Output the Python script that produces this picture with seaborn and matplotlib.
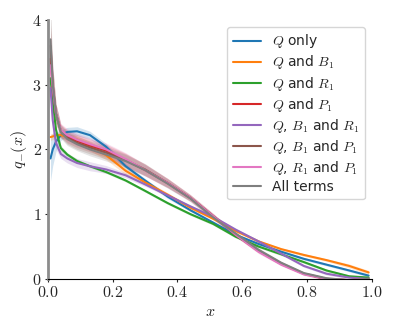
import numpy as np
import pandas as pd
import matplotlib
matplotlib.use("Agg")
import matplotlib.pyplot as plt
from matplotlib.ticker import FuncFormatter
import seaborn as sns

sns.set_style("ticks")
plt.rcParams["font.family"] = ["DejaVu Sans"]
plt.rcParams["mathtext.fontset"] = "cm"
plt.rcParams["font.size"] = 10

X = [0.008, 0.015, 0.025, 0.04, 0.06, 0.09, 0.13, 0.18, 0.24, 0.30,
     0.37, 0.44, 0.51, 0.58, 0.65, 0.72, 0.79, 0.86, 0.93, 0.99]

LABELS = [
    r"$Q$ only", r"$Q$ and $B_1$", r"$Q$ and $R_1$", r"$Q$ and $P_1$",
    r"$Q$, $B_1$ and $R_1$", r"$Q$, $B_1$ and $P_1$", r"$Q$, $R_1$ and $P_1$",
    "All terms",
]

q_only = [1.86, 2.00, 2.12, 2.22, 2.27, 2.28, 2.22, 2.04, 1.74, 1.52,
          1.27, 1.06, 0.87, 0.68, 0.54, 0.42, 0.31, 0.22, 0.13, 0.05]
q_b1 = [2.19, 2.20, 2.22, 2.22, 2.19, 2.15, 2.05, 1.91, 1.67, 1.49,
        1.30, 1.10, 0.93, 0.74, 0.58, 0.46, 0.37, 0.29, 0.20, 0.10]
q_r1 = [3.10, 2.75, 2.30, 2.02, 1.92, 1.82, 1.74, 1.65, 1.52, 1.36,
        1.17, 1.00, 0.85, 0.65, 0.50, 0.38, 0.26, 0.13, 0.04, 0.02]
q_p1 = [3.40, 2.95, 2.55, 2.29, 2.20, 2.13, 2.06, 1.98, 1.84, 1.68,
        1.48, 1.25, 0.97, 0.68, 0.43, 0.23, 0.08, 0.00, -0.02, 0.00]
q_b1_r1 = [2.95, 2.45, 2.10, 1.93, 1.86, 1.79, 1.74, 1.69, 1.60, 1.46,
           1.29, 1.12, 0.96, 0.76, 0.58, 0.39, 0.20, 0.08, 0.02, 0.00]
q_b1_p1 = [3.60, 3.00, 2.55, 2.28, 2.18, 2.10, 2.03, 1.95, 1.83, 1.69,
           1.48, 1.25, 0.97, 0.68, 0.44, 0.24, 0.08, 0.00, -0.02, 0.00]
q_r1_p1 = [3.30, 2.95, 2.55, 2.30, 2.22, 2.15, 2.08, 2.00, 1.85, 1.68,
           1.48, 1.25, 0.97, 0.68, 0.42, 0.22, 0.07, 0.00, -0.02, 0.00]
all_terms = [3.70, 3.00, 2.55, 2.27, 2.16, 2.08, 2.00, 1.92, 1.82, 1.68,
             1.47, 1.24, 0.95, 0.70, 0.45, 0.25, 0.09, 0.01, -0.02, 0.00]

# half-width of the shaded band around each curve
band_q = [0.35, 0.25, 0.15, 0.08, 0.07, 0.07, 0.06, 0.05, 0.04, 0.03,
          0.03, 0.02, 0.02, 0.02, 0.02, 0.02, 0.02, 0.02, 0.02, 0.02]
band_b1 = [0.05, 0.05, 0.04, 0.04, 0.05, 0.06, 0.07, 0.07, 0.06, 0.04,
           0.03, 0.03, 0.02, 0.02, 0.02, 0.02, 0.02, 0.02, 0.03, 0.03]
band_r1 = [0.25, 0.15, 0.08, 0.04, 0.03, 0.03, 0.02, 0.02, 0.02, 0.02,
           0.02, 0.02, 0.02, 0.02, 0.02, 0.02, 0.02, 0.02, 0.02, 0.02]
band_b1_r1 = [0.30, 0.20, 0.10, 0.07, 0.07, 0.07, 0.07, 0.06, 0.04, 0.03,
              0.02, 0.02, 0.02, 0.02, 0.02, 0.02, 0.02, 0.02, 0.02, 0.02]
band_full = [0.50, 0.30, 0.15, 0.10, 0.10, 0.10, 0.10, 0.10, 0.10, 0.09,
             0.07, 0.05, 0.04, 0.03, 0.03, 0.02, 0.02, 0.02, 0.02, 0.02]

series = [
    (q_only, band_q), (q_b1, band_b1), (q_r1, band_r1), (q_p1, band_full),
    (q_b1_r1, band_b1_r1), (q_b1_p1, band_full), (q_r1_p1, band_full),
    (all_terms, band_full),
]

rows = []
for label, (mean, half) in zip(LABELS, series):
    for x, m, h in zip(X, mean, half):
        for v in (m - h, m, m + h):
            rows.append({"x": x, "q": v, "fit": label})
df = pd.DataFrame(rows)

fig = plt.figure(figsize=(3.99, 3.32), dpi=100)
ax = fig.add_axes([0.12, 0.16, 0.812, 0.78])
sns.lineplot(
    data=df, x="x", y="q", hue="fit", hue_order=LABELS,
    palette="tab10", estimator="mean", errorbar=("pi", 100),
    err_kws={"alpha": 0.2, "linewidth": 0}, linewidth=1.5, ax=ax,
)
ax.set_xlim(0, 1)
ax.set_ylim(0, 4)
ax.set_xticks([0, 0.2, 0.4, 0.6, 0.8, 1.0])
ax.set_yticks([0, 1, 2, 3, 4])
ax.xaxis.set_major_formatter(FuncFormatter(lambda v, p: f"${v:.1f}$"))
ax.yaxis.set_major_formatter(FuncFormatter(lambda v, p: f"${v:.0f}$"))
ax.tick_params(labelsize=11.5, length=2.5, width=0.8, pad=2)
ax.set_xlabel("$x$", fontsize=11.5, labelpad=3)
ax.set_ylabel("$q_{-}(x)$", fontsize=11.5, labelpad=2)
sns.despine(ax=ax)
ax.spines["left"].set_color("#8c8c8c")
ax.spines["left"].set_linewidth(2)
ax.spines["bottom"].set_color("black")
ax.legend(loc="upper right", fontsize=10, title=None, labelspacing=0.22)

plt.savefig("out.png", dpi=100)
plt.close()
